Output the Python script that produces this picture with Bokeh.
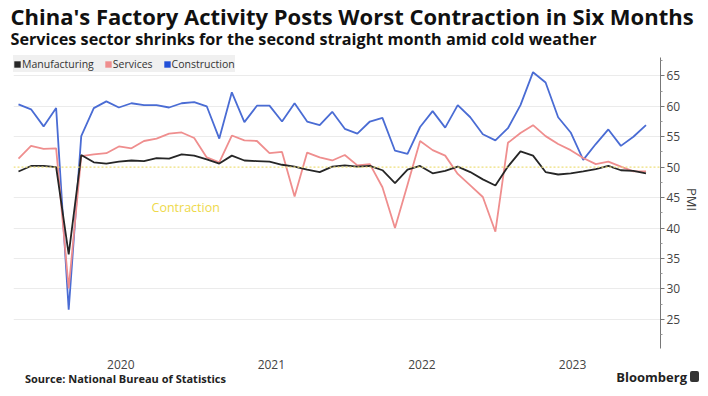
import pandas as pd
from bokeh.plotting import figure
from bokeh.layouts import column
from bokeh.models import Range1d, FixedTicker, Label, Legend, LegendItem, Span, Title, Div
from bokeh.embed import file_html
from bokeh.resources import INLINE

# ---------------- data ----------------
MONTHS = [str(m) for m in pd.period_range("2019-10", "2023-12", freq="M")]

MANUFACTURING = [49.3, 50.2, 50.2,
                 50.0, 35.7, 52.0, 50.8, 50.6, 50.9, 51.1, 51.0, 51.5, 51.4, 52.1, 51.9,
                 51.3, 50.6, 51.9, 51.1, 51.0, 50.9, 50.4, 50.1, 49.6, 49.2, 50.1, 50.3,
                 50.1, 50.2, 49.5, 47.4, 49.6, 50.2, 49.0, 49.4, 50.1, 49.2, 48.0, 47.0,
                 50.1, 52.6, 51.9, 49.2, 48.8, 49.0, 49.3, 49.7, 50.2, 49.5, 49.4, 49.0]

SERVICES = [51.4, 53.5, 53.0,
            53.1, 30.1, 51.8, 52.1, 52.3, 53.4, 53.1, 54.3, 54.7, 55.5, 55.7, 54.8,
            51.6, 50.8, 55.2, 54.4, 54.3, 52.3, 52.5, 45.2, 52.4, 51.6, 51.1, 52.0,
            50.3, 50.5, 46.7, 40.0, 47.1, 54.3, 52.8, 51.9, 48.9, 47.0, 45.1, 39.4,
            54.0, 55.6, 56.9, 55.1, 53.8, 52.8, 51.5, 50.5, 50.9, 50.1, 49.3, 49.3]

CONSTRUCTION = [60.3, 59.5, 56.7,
                59.7, 26.6, 55.1, 59.7, 60.8, 59.8, 60.5, 60.2, 60.2, 59.8, 60.5, 60.7,
                60.0, 54.7, 62.3, 57.4, 60.1, 60.1, 57.5, 60.5, 57.5, 56.9, 59.1, 56.3,
                55.5, 57.5, 58.1, 52.7, 52.2, 56.6, 59.2, 56.5, 60.2, 58.2, 55.4, 54.4,
                56.4, 60.2, 65.6, 63.9, 58.2, 55.7, 51.2, 53.8, 56.2, 53.5, 55.0, 56.9]

YEAR_LABELS = ["2020", "2021", "2022", "2023"]
Y_TICKS = [25, 30, 35, 40, 45, 50, 55, 60, 65]
THRESHOLD = 50

TITLE = "China's Factory Activity Posts Worst Contraction in Six Months"
SUBTITLE = "Services sector shrinks for the second straight month amid cold weather"
SOURCE = "Source: National Bureau of Statistics"
BRAND = "Bloomberg"

# ---------------- styling ----------------
COL_M = "#262626"
COL_S = "#ef8e8e"
COL_C = "#4a6cd4"
FONT = "Open Sans"

# ---------------- main chart ----------------
x = list(range(len(MONTHS)))

p = figure(title=None, frame_width=647, frame_height=298,
           output_backend="svg", toolbar_location=None,
           x_range=Range1d(-0.398, 51.157), y_range=Range1d(20.23, 69.16),
           min_border_left=13, min_border_top=50, min_border_right=48, min_border_bottom=24,
           y_axis_location="right", outline_line_color=None,
           background_fill_color="white", border_fill_color="white")

# header titles (first added = closest to the chart)
p.add_layout(Title(text=SUBTITLE, align="left", offset=-3, standoff=-1, vertical_align="middle",
                   text_font=FONT, text_font_style="bold", text_font_size="16.2px",
                   text_color="#111111"), "above")
p.add_layout(Title(text=TITLE, align="left", offset=-3, standoff=-9, vertical_align="middle",
                   text_font=FONT, text_font_style="bold", text_font_size="22px",
                   text_color="#111111"), "above")

p.xgrid.grid_line_color = None
p.ygrid.ticker = FixedTicker(ticks=[t for t in Y_TICKS if t != THRESHOLD])
p.ygrid.grid_line_color = "#ebebeb"
p.ygrid.grid_line_width = 1

p.add_layout(Span(location=THRESHOLD, dimension="width", line_color="#eee07c",
                  line_dash="2 2", line_width=1.2))

p.line(x, CONSTRUCTION, line_color=COL_C, line_width=1.8)
p.line(x, SERVICES, line_color=COL_S, line_width=1.8)
p.line(x, MANUFACTURING, line_color=COL_M, line_width=1.8)

# hidden bar renderers just to give square legend swatches
sq_m = p.vbar(x=x, top=MANUFACTURING, width=0.5, fill_color=COL_M, line_color=None, visible=False)
sq_s = p.vbar(x=x, top=SERVICES, width=0.5, fill_color=COL_S, line_color=None, visible=False)
sq_c = p.vbar(x=x, top=CONSTRUCTION, width=0.5, fill_color="#2250d8", line_color=None, visible=False)

legend = Legend(items=[LegendItem(label="Manufacturing", renderers=[sq_m]),
                       LegendItem(label="Services", renderers=[sq_s]),
                       LegendItem(label="Construction", renderers=[sq_c])],
                location=(0, 276), orientation="horizontal",
                background_fill_color="#f0f0f0", background_fill_alpha=1.0,
                border_line_color=None, padding=3, spacing=10, margin=0,
                glyph_width=8, glyph_height=8, label_standoff=1, label_height=17,
                label_text_font=FONT, label_text_font_size="10.5px",
                label_text_color="#333333", inactive_fill_alpha=0.0)
p.add_layout(legend)

ya = p.yaxis[0]
ya.ticker = FixedTicker(ticks=Y_TICKS, minor_ticks=[t + 2.5 for t in [20] + Y_TICKS])
ya.bounds = (20.3, 68.0)
ya.axis_line_color = "#777777"
ya.major_tick_line_color = "#777777"
ya.minor_tick_line_color = "#999999"
ya.major_tick_out = 4
ya.major_tick_in = 0
ya.minor_tick_out = 2
ya.minor_tick_in = 0
ya.major_label_standoff = 2
ya.major_label_text_font = FONT
ya.major_label_text_font_size = "12px"
ya.major_label_text_color = "#444444"
ya.axis_label = "PMI"
ya.axis_label_text_font = FONT
ya.axis_label_text_font_style = "normal"
ya.axis_label_text_font_size = "13px"
ya.axis_label_text_color = "#444444"
ya.axis_label_standoff = 0

year_pos = [MONTHS.index(f"{y}-06") + 0.15 for y in YEAR_LABELS]
xa = p.xaxis[0]
xa.ticker = FixedTicker(ticks=year_pos, minor_ticks=[])
xa.major_label_overrides = {pos: lab for pos, lab in zip(year_pos, YEAR_LABELS)}
xa.axis_line_color = None
xa.major_tick_line_color = None
xa.minor_tick_line_color = None
xa.major_label_standoff = 5
xa.major_label_text_font = FONT
xa.major_label_text_font_size = "12px"
xa.major_label_text_color = "#444444"

p.add_layout(Label(x=10.6, y=43.4, text="Contraction", text_color="#eed94a",
                   text_font=FONT, text_font_size="12.5px", text_baseline="middle"))

# ---------------- footer ----------------
footer_html = (
    '<div style="position:relative;width:708px;height:24px;font-family:\'Open Sans\';color:#222222;">'
    f'<span style="position:absolute;left:20px;top:-6px;font-size:11px;font-weight:bold;'
    f'line-height:16px;white-space:nowrap;">{SOURCE}</span>'
    f'<span style="position:absolute;right:26px;top:-9px;font-size:13px;font-weight:bold;'
    f'line-height:18px;white-space:nowrap;">{BRAND}</span>'
    '<span style="position:absolute;left:685px;top:-6px;width:9px;height:11px;'
    'background:#333333;border-radius:2px;"></span>'
    '</div>'
)
footer = Div(text=footer_html, width=708, height=24)

layout = column(p, footer, spacing=0)
open("out.html", "w").write(file_html(layout, INLINE))
